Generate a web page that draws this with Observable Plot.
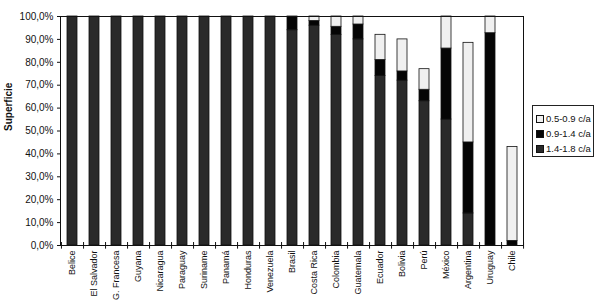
<!DOCTYPE html>
<html>
<head>
<meta charset="utf-8">
<script src="https://cdn.jsdelivr.net/npm/d3@7"></script>
<script src="https://cdn.jsdelivr.net/npm/@observablehq/plot@0.6"></script>
<style>
  html, body { margin: 0; padding: 0; background: #fff; }
  #wrap { position: relative; width: 600px; height: 304px; font-family: "Liberation Sans", Arial, sans-serif; }
  #legend { position: absolute; left: 532px; top: 105px; width: 62px; height: 52px; border: 1px solid #222; background: #fff; box-sizing: border-box; padding: 5px 0 0 3px; }
  .item { display: flex; align-items: center; height: 15px; font-size: 9.5px; color: #111; white-space: nowrap; }
  .sw { width: 6px; height: 6px; border: 1px solid #111; margin-right: 2px; flex: none; }
</style>
</head>
<body>
<div id="wrap"><div id="legend"></div></div>
<script>
const countries = ["Belice","El Salvador","G. Francesa","Guyana","Nicaragua","Paraguay","Suriname","Panamá","Honduras","Venezuela","Brasil","Costa Rica","Colombia","Guatemala","Ecuador","Bolivia","Perú","México","Argentina","Uruguay","Chile"];
const seriesNames = ["1.4-1.8 c/a", "0.9-1.4 c/a", "0.5-0.9 c/a"];
const s14_18 = [100,100,100,100,100,100,100,100,100,100, 94, 96, 92, 90, 74, 72, 63, 55, 14, 0, 0];
const s09_14 = [0,0,0,0,0,0,0,0,0,0, 6, 2, 3.5, 6.5, 7, 4, 5, 31, 31, 92.7, 2];
const s05_09 = [0,0,0,0,0,0,0,0,0,0, 0, 2, 4.5, 3.5, 11, 14, 9, 14, 43.5, 7.3, 41];
const seriesColors = ["#2a2a2a", "#050505", "#f0f0f0"];
const yTicks = d3.range(0, 101, 10);
const legendOrder = ["0.5-0.9 c/a", "0.9-1.4 c/a", "1.4-1.8 c/a"];

const seriesValues = [s14_18, s09_14, s05_09];
const table = [];
countries.forEach((c, i) => {
  seriesNames.forEach((s, j) => {
    const v = seriesValues[j][i];
    if (v > 0) table.push({country: c, series: s, value: v});
  });
});

const W = 600, H = 304, mL = 60, mR = 77, mT = 16, mB = 59;
const pIn = 0.55, pOut = 0.25;
const step = (W - mL - mR) / (countries.length - pIn + 2 * pOut);
const font = "Liberation Sans, Arial, sans-serif";

const chart = Plot.plot({
  width: W, height: H,
  marginLeft: mL, marginRight: mR, marginTop: mT, marginBottom: mB,
  style: {fontFamily: font, fontSize: "10px", color: "#111", background: "#fff"},
  x: {domain: countries, paddingInner: pIn, paddingOuter: pOut, align: 0.5},
  y: {domain: [0, 100]},
  color: {domain: seriesNames, range: seriesColors},
  marks: [
    Plot.barY(table, Plot.stackY({order: seriesNames}, {x: "country", y: "value", z: "series", fill: "series", stroke: "#111", strokeWidth: 0.8})),
    Plot.frame({stroke: "#111", strokeWidth: 1}),
    Plot.axisY({ticks: yTicks, tickFormat: d => d.toFixed(1).replace(".", ",") + "%", tickSize: 3, tickPadding: 4, label: null, fontSize: 10}),
    Plot.axisX({tickRotate: -90, tickSize: 0, tickPadding: 5, label: null, fontSize: 9}),
    Plot.ruleX(countries, {x: d => d, y1: 1.3, y2: -1.6, dx: step / 2, stroke: "#111"}),
    Plot.ruleX(countries.slice(0, 1), {x: d => d, y1: 1.3, y2: -1.6, dx: -step / 2, stroke: "#111"}),
    Plot.text(["Superficie"], {frameAnchor: "left", text: d => d, rotate: -90, dx: -52, fontWeight: "bold", fontSize: 10, fill: "#111"})
  ]
});
document.getElementById("wrap").prepend(chart);
chart.style.position = "absolute";
chart.style.left = "0"; chart.style.top = "0";

const legend = document.getElementById("legend");
legendOrder.forEach(name => {
  const it = document.createElement("div");
  it.className = "item";
  const sw = document.createElement("span");
  sw.className = "sw";
  sw.style.background = seriesColors[seriesNames.indexOf(name)];
  it.appendChild(sw);
  it.appendChild(document.createTextNode(name));
  legend.appendChild(it);
});
</script>
</body>
</html>
